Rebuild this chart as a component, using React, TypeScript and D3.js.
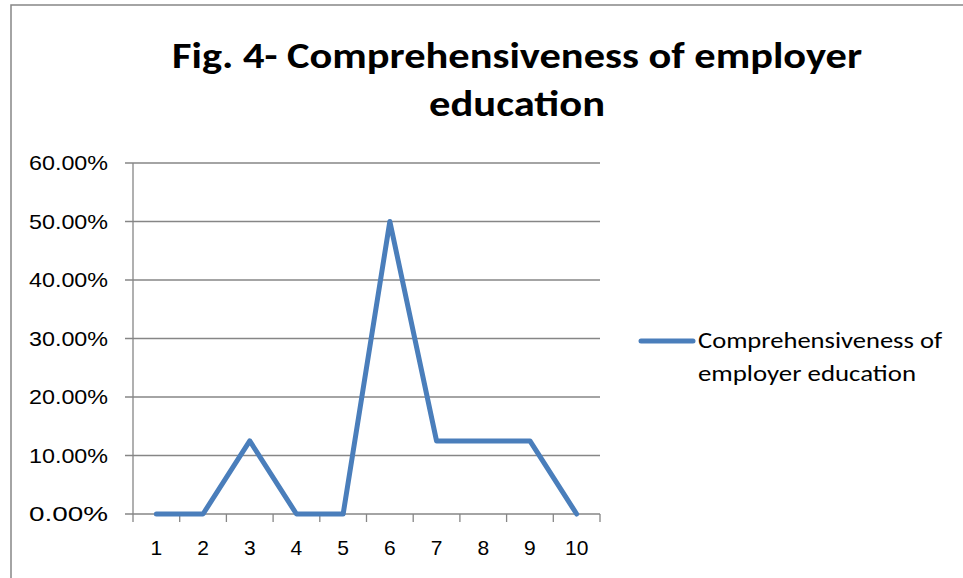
import React from "react";
import * as d3 from "d3";

const categories: string[] = ["1", "2", "3", "4", "5", "6", "7", "8", "9", "10"];
const values: number[] = [0, 0, 0.125, 0, 0, 0.5, 0.125, 0.125, 0.125, 0];
const yTicks: number[] = [0, 0.1, 0.2, 0.3, 0.4, 0.5, 0.6];
const seriesName = "Comprehensiveness of employer education";

const width = 963;
const height = 578;
const marginLeft = 133;
const marginRight = 363;
const marginTop = 163;
const marginBottom = 64;

const lineColor = "#4a7ebb";
const gridColor = "#868686";
const titleFont = "Carlito, Calibri, 'Liberation Sans', Arial, sans-serif";
const font = "Carlito, Calibri, 'Liberation Sans', Arial, sans-serif";
const numFont = "'Liberation Sans', Arial, sans-serif";

export default function App() {
  // band scale so the points sit in the middle of each category
  const x = d3
    .scaleBand()
    .domain(categories)
    .range([marginLeft, width - marginRight]);

  const y = d3
    .scaleLinear()
    .domain([0, 0.6])
    .range([height - marginBottom, marginTop]);

  const line = d3
    .line<number>()
    .x((d, i) => (x(categories[i]) as number) + x.bandwidth() / 2)
    .y((d) => y(d));

  const pct = d3.format(".2%");
  const bottom = y(0);

  return (
    <svg
      width={width}
      height={height}
      style={{ position: "absolute", left: 0, top: 0, background: "#fff" }}
    >
      <rect x={11} y={5} width={970} height={600} fill="#fff" stroke={gridColor} strokeWidth={1.5} />

      {/* title */}
      <text x={517} y={68} textAnchor="middle" fontFamily={titleFont} fontWeight="bold" fontSize={37}
        textLength={690} lengthAdjust="spacingAndGlyphs">
        Fig. 4- Comprehensiveness of employer
      </text>
      <text x={517} y={116} textAnchor="middle" fontFamily={titleFont} fontWeight="bold" fontSize={37}
        textLength={176} lengthAdjust="spacingAndGlyphs">
        education
      </text>

      {/* gridlines + y labels */}
      {yTicks.map((t) => (
        <g key={t}>
          <line x1={marginLeft - 8} x2={width - marginRight} y1={y(t)} y2={y(t)} stroke={gridColor} strokeWidth={1.3} />
          <text x={108} y={y(t) + 7} textAnchor="end" fontFamily={numFont} fontSize={21} fill="#000"
            textLength={79} lengthAdjust="spacingAndGlyphs">
            {pct(t)}
          </text>
        </g>
      ))}

      {/* y axis */}
      <line x1={marginLeft} x2={marginLeft} y1={marginTop} y2={bottom} stroke={gridColor} strokeWidth={1.3} />

      {/* x ticks */}
      {categories.map((c) => (
        <line key={"t" + c} x1={(x(c) as number)} x2={(x(c) as number)} y1={bottom} y2={bottom + 8}
          stroke={gridColor} strokeWidth={1.3} />
      ))}
      <line x1={width - marginRight} x2={width - marginRight} y1={bottom} y2={bottom + 8} stroke={gridColor} strokeWidth={1.3} />
      {categories.map((c) => (
        <text key={"l" + c} x={(x(c) as number) + x.bandwidth() / 2} y={bottom + 41} textAnchor="middle"
          fontFamily={numFont} fontSize={21} fill="#000">
          {c}
        </text>
      ))}

      {/* series */}
      <path d={line(values) || ""} fill="none" stroke={lineColor} strokeWidth={5} strokeLinejoin="round" strokeLinecap="round" />

      {/* legend */}
      <line x1={641} x2={693} y1={341} y2={341} stroke={lineColor} strokeWidth={5} strokeLinecap="round" />
      <text x={698} y={348} fontFamily={font} fontSize={22} fill="#000" textLength={244} lengthAdjust="spacingAndGlyphs">
        Comprehensiveness of
      </text>
      <text x={698} y={381} fontFamily={font} fontSize={22} fill="#000" textLength={218} lengthAdjust="spacingAndGlyphs">
        employer education
      </text>
    </svg>
  );
}
